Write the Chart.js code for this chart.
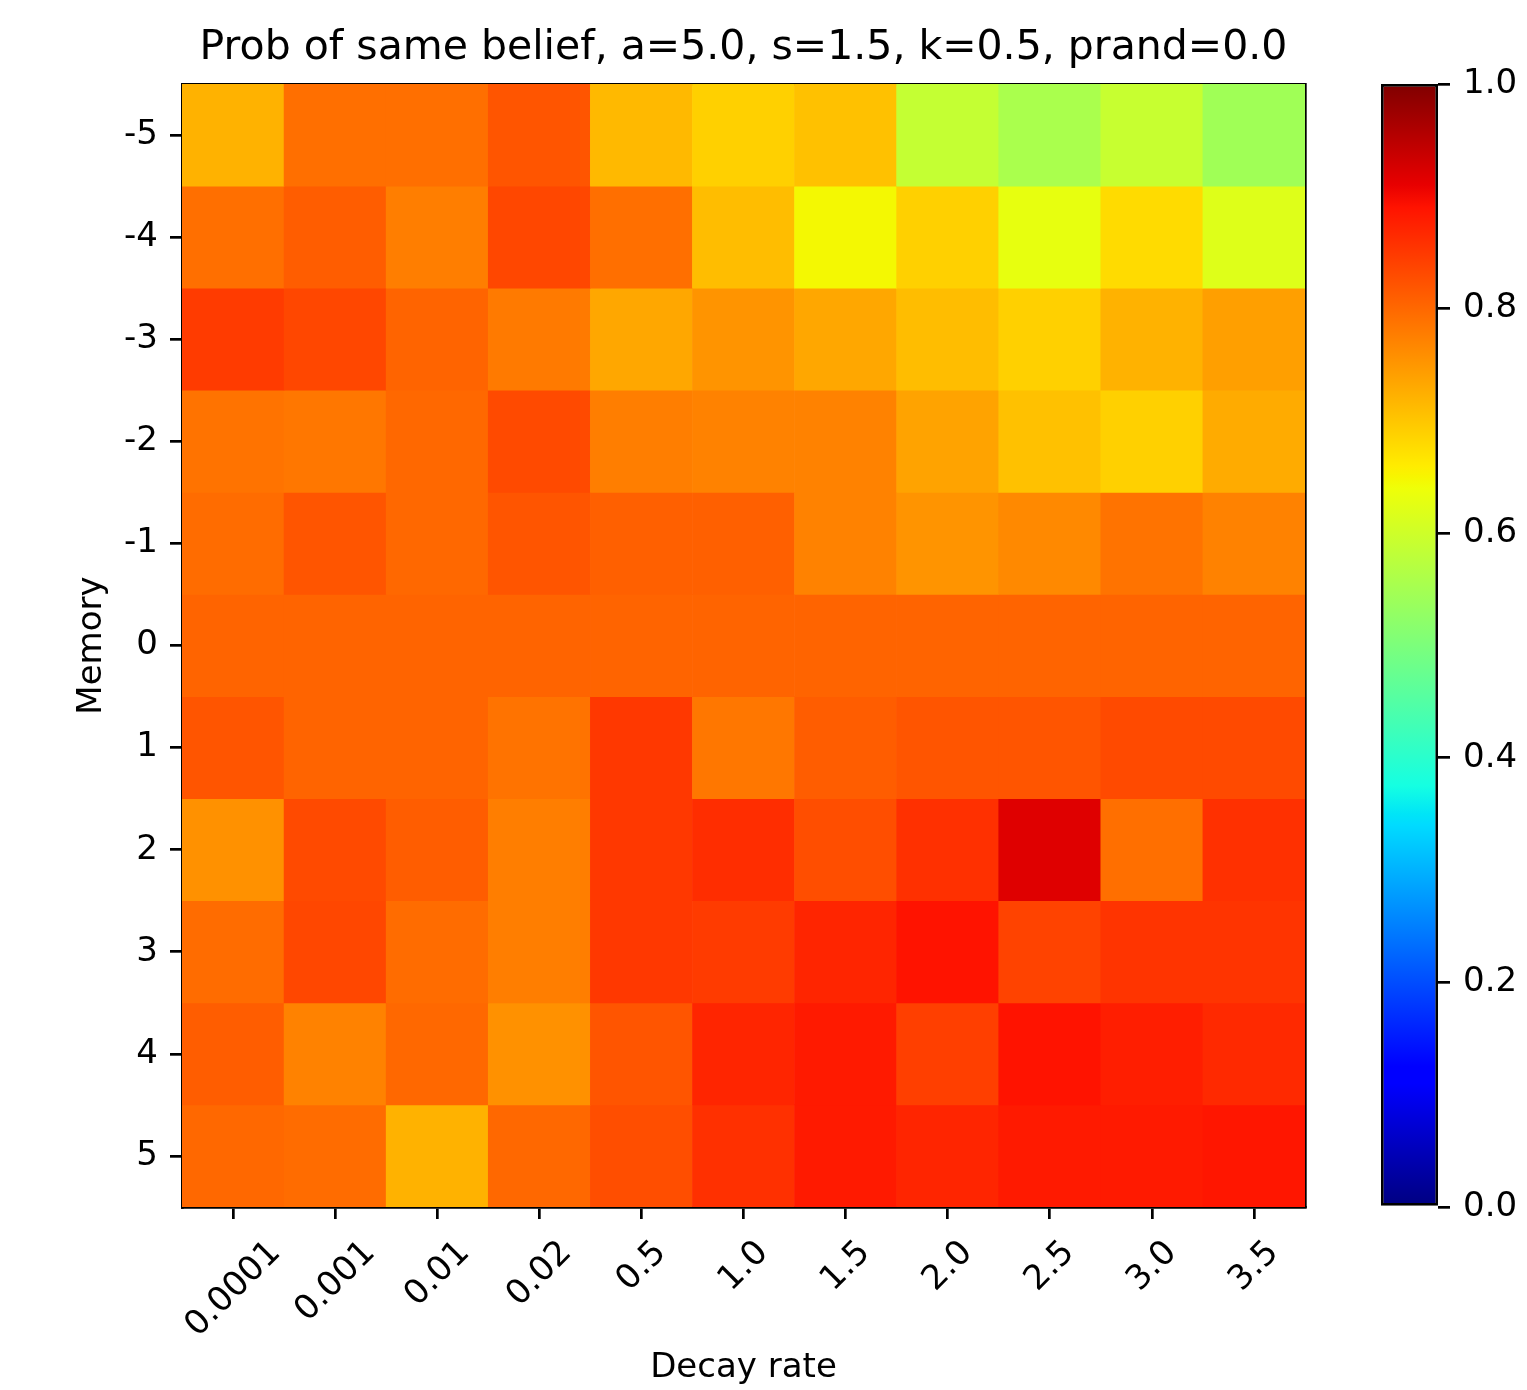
<!DOCTYPE html>
<html lang="en">
<head>
<meta charset="UTF-8">
<title>Prob of same belief</title>
<script src="https://cdn.jsdelivr.net/npm/chart.js@4.4.0/dist/chart.umd.min.js"></script>
<style>
  body { margin: 0; background: #ffffff; }
  #wrap { position: relative; width: 1527px; height: 1390px; }
  #heat { position: absolute; left: 0; top: 0; }
  #cbar { position: absolute; left: 1340px; top: 0; }
</style>
</head>
<body>
<div id="wrap">
  <canvas id="heat" width="1487" height="1390"></canvas>
  <canvas id="cbar" width="187" height="1390"></canvas>
</div>
<script>
// columns (decay rate) and rows (memory)
const decayRates = ['0.0001', '0.001', '0.01', '0.02', '0.5', '1.0', '1.5', '2.0', '2.5', '3.0', '3.5'];
const memory = [-5, -4, -3, -2, -1, 0, 1, 2, 3, 4, 5];

// prob of same belief, one array per memory row
const memM5 = [0.720, 0.790, 0.790, 0.817, 0.711, 0.690, 0.707, 0.586, 0.557, 0.590, 0.545];
const memM4 = [0.790, 0.810, 0.775, 0.834, 0.790, 0.710, 0.648, 0.688, 0.630, 0.677, 0.618];
const memM3 = [0.844, 0.834, 0.804, 0.780, 0.732, 0.753, 0.732, 0.709, 0.690, 0.720, 0.740];
const memM2 = [0.788, 0.783, 0.799, 0.830, 0.775, 0.770, 0.770, 0.735, 0.707, 0.688, 0.728];
const memM1 = [0.795, 0.820, 0.799, 0.820, 0.807, 0.807, 0.772, 0.751, 0.764, 0.788, 0.772];
const mem0  = [0.802, 0.802, 0.802, 0.802, 0.802, 0.802, 0.802, 0.802, 0.802, 0.802, 0.802];
const memP1 = [0.817, 0.804, 0.804, 0.788, 0.849, 0.785, 0.810, 0.817, 0.817, 0.830, 0.830];
const memP2 = [0.756, 0.830, 0.812, 0.775, 0.849, 0.862, 0.825, 0.857, 0.915, 0.790, 0.859];
const memP3 = [0.793, 0.834, 0.795, 0.775, 0.849, 0.844, 0.870, 0.890, 0.838, 0.852, 0.852];
const memP4 = [0.810, 0.772, 0.799, 0.756, 0.820, 0.870, 0.880, 0.841, 0.888, 0.876, 0.866];
const memP5 = [0.799, 0.795, 0.720, 0.799, 0.825, 0.859, 0.880, 0.870, 0.880, 0.880, 0.883];
const rows = [memM5, memM4, memM3, memM2, memM1, mem0, memP1, memP2, memP3, memP4, memP5];

const colorbarTicks = [0, 0.2, 0.4, 0.6, 0.8, 1.0];

// jet colormap (same segments as matplotlib)
const jetRed   = [[0, 0], [0.35, 0], [0.66, 1], [0.89, 1], [1, 0.5]];
const jetGreen = [[0, 0], [0.125, 0], [0.375, 1], [0.64, 1], [0.91, 0], [1, 0]];
const jetBlue  = [[0, 0.5], [0.11, 1], [0.34, 1], [0.65, 0], [1, 0]];
const jetStops = [0, 0.11, 0.125, 0.34, 0.35, 0.375, 0.64, 0.65, 0.66, 0.89, 0.91, 1];

function channel(pts, v) {
  for (let i = 1; i < pts.length; i++) {
    if (v <= pts[i][0]) {
      const [x0, y0] = pts[i - 1];
      const [x1, y1] = pts[i];
      return y0 + (y1 - y0) * (v - x0) / (x1 - x0);
    }
  }
  return pts[pts.length - 1][1];
}
function jet(v) {
  return 'rgb(' + [jetRed, jetGreen, jetBlue].map(p => Math.round(255 * channel(p, v))).join(',') + ')';
}
// matplotlib looks colours up in a 256 entry table
function jetCell(v) {
  return jet(Math.min(255, Math.floor(v * 256)) / 255);
}

Chart.defaults.font.family = 'DejaVu Sans';
Chart.defaults.color = '#000000';

const FONT = 34;
const LINE = 2.7;
const TICK = 12;

// matplotlib centres rotated tick labels under the tick, chart.js right-aligns them
const centreTickLabels = {
  id: 'centreTickLabels',
  beforeDraw(chart) {
    const scale = chart.scales.x;
    const ctx = chart.ctx;
    ctx.save();
    scale.getLabelItems().forEach((item, i) => {
      ctx.font = item.font.string;
      const w = ctx.measureText(item.label).width;
      item.options.textAlign = 'right';
      item.options.textBaseline = 'middle';
      item.options.translation = [scale.getPixelForTick(i) + 0.354 * w - 14, scale.top + 26];
    });
    ctx.restore();
  }
};

const heatData = {
  labels: decayRates,
  datasets: rows.map((vals, r) => ({
    label: 'Memory ' + memory[r],
    data: vals.map(() => [memory[r] - 0.5, memory[r] + 0.5]),
    backgroundColor: vals.map(jetCell),
    borderWidth: 0,
    grouped: false,
    barPercentage: 1,
    categoryPercentage: 1
  }))
};

new Chart(document.getElementById('heat'), {
  type: 'bar',
  data: heatData,
  plugins: [centreTickLabels],
  options: {
    responsive: false,
    animation: false,
    layout: { padding: 0 },
    plugins: {
      legend: { display: false },
      tooltip: { enabled: false },
      title: {
        display: true,
        text: 'Prob of same belief, a=5.0, s=1.5, k=0.5, prand=0.0',
        font: { size: 41, weight: 'normal' },
        color: '#000000',
        padding: { top: 24, bottom: 10.8 }
      }
    },
    scales: {
      x: {
        type: 'category',
        offset: true,
        grid: { offset: false, drawOnChartArea: false, tickLength: TICK, color: '#000000', lineWidth: LINE },
        border: { color: '#000000', width: LINE },
        ticks: { font: { size: FONT }, color: '#000000', minRotation: 45, maxRotation: 45, autoSkip: false },
        title: { display: true, text: 'Decay rate', font: { size: FONT }, color: '#000000', padding: { top: 0, bottom: 1 } },
        afterFit: s => { s.height = 183; }
      },
      xTop: {
        type: 'category',
        position: 'top',
        offset: true,
        grid: { drawOnChartArea: false, drawTicks: false },
        border: { color: '#000000', width: LINE },
        ticks: { display: false },
        afterFit: s => { s.height = 0; }
      },
      y: {
        type: 'linear',
        reverse: true,
        min: -5.5,
        max: 5.5,
        afterBuildTicks: s => { s.ticks = memory.map(v => ({ value: v })); },
        grid: { drawOnChartArea: false, tickLength: TICK, color: '#000000', lineWidth: LINE },
        border: { color: '#000000', width: LINE },
        ticks: { font: { size: FONT }, color: '#000000', padding: 12, callback: v => String(v) },
        title: { display: true, text: 'Memory', font: { size: FONT }, color: '#000000', padding: { top: 72, bottom: 0 } },
        afterFit: s => { s.width = 182; }
      },
      yRight: {
        type: 'linear',
        position: 'right',
        min: -5.5,
        max: 5.5,
        grid: { drawOnChartArea: false, drawTicks: false },
        border: { color: '#000000', width: LINE },
        ticks: { display: false },
        afterFit: s => { s.width = 182; }
      }
    }
  }
});

// colorbar
new Chart(document.getElementById('cbar'), {
  type: 'bar',
  data: {
    labels: [''],
    datasets: [{
      data: [[colorbarTicks[0], colorbarTicks[colorbarTicks.length - 1]]],
      backgroundColor: c => {
        const chart = c.chart;
        if (!chart.chartArea) return 'rgba(0,0,0,0)';
        const y = chart.scales.y;
        const g = chart.ctx.createLinearGradient(0, y.getPixelForValue(0), 0, y.getPixelForValue(1));
        jetStops.forEach(s => g.addColorStop(s, jet(s)));
        return g;
      },
      borderColor: '#000000',
      borderWidth: LINE,
      borderSkipped: false,
      barPercentage: 1,
      categoryPercentage: 1,
      inflateAmount: 0
    }]
  },
  options: {
    responsive: false,
    animation: false,
    layout: { padding: { left: 41, top: 84, bottom: 183, right: 0 } },
    plugins: { legend: { display: false }, tooltip: { enabled: false } },
    scales: {
      x: { display: false },
      y: {
        position: 'right',
        min: 0,
        max: 1,
        afterBuildTicks: s => { s.ticks = colorbarTicks.map(v => ({ value: v })); },
        grid: { drawOnChartArea: false, tickLength: TICK, color: '#000000', lineWidth: LINE },
        border: { display: false },
        ticks: { font: { size: FONT }, color: '#000000', padding: 13, callback: v => v.toFixed(1) },
        afterFit: s => { s.width = 89; }
      }
    }
  }
});
</script>
</body>
</html>
